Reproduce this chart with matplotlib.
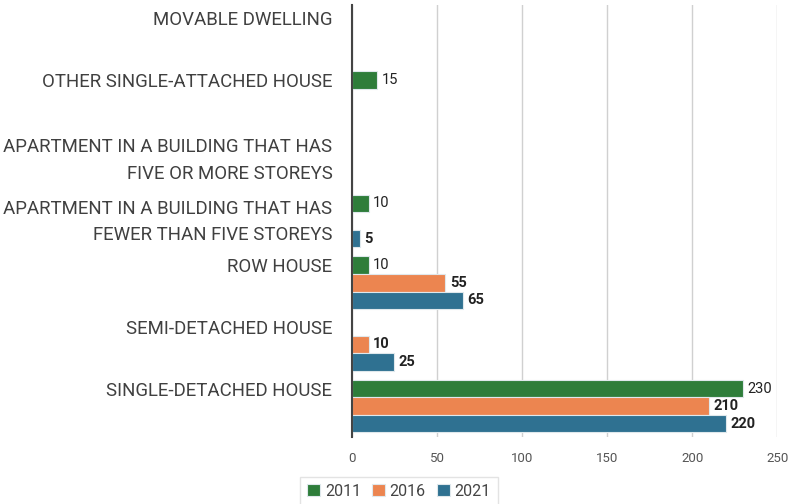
import numpy as np
import matplotlib.pyplot as plt

categories = [
    "SINGLE-DETACHED HOUSE",
    "SEMI-DETACHED HOUSE",
    "ROW HOUSE",
    "APARTMENT IN A BUILDING THAT HAS\nFEWER THAN FIVE STOREYS",
    "APARTMENT IN A BUILDING THAT HAS\nFIVE OR MORE STOREYS",
    "OTHER SINGLE-ATTACHED HOUSE",
    "MOVABLE DWELLING",
]
years = ["2011", "2016", "2021"]
v2011 = [230, 0, 10, 10, 0, 15, 0]
v2016 = [210, 10, 55, 0, 0, 0, 0]
v2021 = [220, 25, 65, 5, 0, 0, 0]
colors = ["#2E7D3A", "#EC8550", "#2F7191"]

plt.rcParams["font.family"] = ["Roboto", "DejaVu Sans"]

fig = plt.figure(figsize=(7.98, 5.04), dpi=100)
ax = fig.add_axes([0.441, 0.133, 0.533, 0.857])

y = np.arange(len(categories))
h = 0.285
series = [v2011, v2016, v2021]
for i, (vals, c, yr) in enumerate(zip(series, colors, years)):
    pos = y + h * (1 - i)
    ax.barh(pos, vals, height=h, color=c, edgecolor="#dfe8ec", linewidth=0.8, label=yr, zorder=3)
    for p, v in zip(pos, vals):
        if v > 0:
            ax.text(v + 2.5, p, str(v), va="center", ha="left", fontsize=10.5,
                    color="#222222", fontweight="normal" if i == 0 else "bold")

# single-line labels line up with the top bar, two-line ones near the group centre
tickpos = [yy + 0.08 if "\n" in c else yy + h for yy, c in zip(y, categories)]
ax.set_yticks(tickpos)
ax.set_yticklabels(categories, fontsize=13.4, color="#404040", linespacing=1.6)
ax.tick_params(axis="y", length=0, pad=14)
ax.set_ylim(-0.5, len(categories) - 0.5)

ax.set_xlim(0, 250)
ax.set_xticks([0, 50, 100, 150, 200, 250])
ax.tick_params(axis="x", length=0, labelsize=9.5, labelcolor="#555555", pad=11)
ax.grid(axis="x", color="#d0d0d0", linewidth=1, zorder=0)
for s in ["top", "right", "bottom"]:
    ax.spines[s].set_visible(False)
ax.spines["left"].set_color("#444444")
ax.spines["left"].set_linewidth(1.5)
ax.spines["left"].set_zorder(4)

leg = fig.legend(loc="center", bbox_to_anchor=(0.5, 0.025), ncol=3, fontsize=11.5,
                 frameon=True, handlelength=0.8, handleheight=0.8, handletextpad=0.3,
                 columnspacing=0.7, borderpad=0.45, fancybox=False)
leg.get_frame().set_edgecolor("#dddddd")
for t in leg.get_texts():
    t.set_color("#444444")

fig.savefig("out.png", dpi=100)
